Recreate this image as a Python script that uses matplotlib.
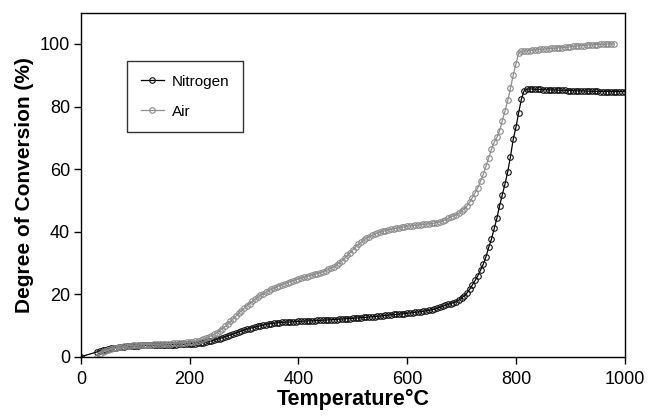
import matplotlib.pyplot as plt

plt.rcParams['font.family'] = ['Liberation Sans', 'DejaVu Sans']

# Sampling temperatures (deg C), 5 degree steps
temp_c = [
    30, 35, 40, 45, 50, 55, 60, 65, 70, 75,
    80, 85, 90, 95, 100, 105, 110, 115, 120, 125,
    130, 135, 140, 145, 150, 155, 160, 165, 170, 175,
    180, 185, 190, 195, 200, 205, 210, 215, 220, 225,
    230, 235, 240, 245, 250, 255, 260, 265, 270, 275,
    280, 285, 290, 295, 300, 305, 310, 315, 320, 325,
    330, 335, 340, 345, 350, 355, 360, 365, 370, 375,
    380, 385, 390, 395, 400, 405, 410, 415, 420, 425,
    430, 435, 440, 445, 450, 455, 460, 465, 470, 475,
    480, 485, 490, 495, 500, 505, 510, 515, 520, 525,
    530, 535, 540, 545, 550, 555, 560, 565, 570, 575,
    580, 585, 590, 595, 600, 605, 610, 615, 620, 625,
    630, 635, 640, 645, 650, 655, 660, 665, 670, 675,
    680, 685, 690, 695, 700, 705, 710, 715, 720, 725,
    730, 735, 740, 745, 750, 755, 760, 765, 770, 775,
    780, 785, 790, 795, 800, 805, 810, 815, 820, 825,
    830, 835, 840, 845, 850, 855, 860, 865, 870, 875,
    880, 885, 890, 895, 900, 905, 910, 915, 920, 925,
    930, 935, 940, 945, 950, 955, 960, 965, 970, 975,
    980, 985, 990, 995, 1000,
]

# Degree of conversion (%) under nitrogen, 30-1000 C
nitrogen = [
    1.6, 1.9, 2.1, 2.3, 2.5, 2.7, 2.8, 2.9, 3.0, 3.1,
    3.2, 3.3, 3.3, 3.4, 3.5, 3.5, 3.6, 3.6, 3.6, 3.7,
    3.7, 3.7, 3.8, 3.8, 3.8, 3.8, 3.9, 3.9, 3.9, 3.9,
    4.0, 4.0, 4.0, 4.1, 4.1, 4.2, 4.2, 4.3, 4.4, 4.5,
    4.7, 4.9, 5.1, 5.3, 5.6, 5.8, 6.1, 6.4, 6.7, 7.0,
    7.3, 7.6, 7.9, 8.2, 8.5, 8.8, 9.0, 9.3, 9.5, 9.7,
    9.9, 10.1, 10.3, 10.5, 10.6, 10.7, 10.8, 10.9, 11.0, 11.0,
    11.1, 11.1, 11.2, 11.2, 11.3, 11.3, 11.4, 11.4, 11.5, 11.5,
    11.5, 11.6, 11.6, 11.7, 11.7, 11.8, 11.8, 11.9, 11.9, 12.0,
    12.1, 12.1, 12.2, 12.2, 12.3, 12.4, 12.4, 12.5, 12.6, 12.6,
    12.7, 12.8, 12.8, 12.9, 13.0, 13.1, 13.2, 13.3, 13.4, 13.5,
    13.5, 13.6, 13.7, 13.8, 13.9, 14.0, 14.1, 14.2, 14.3, 14.4,
    14.5, 14.7, 14.8, 15.0, 15.2, 15.5, 15.8, 16.1, 16.4, 16.7,
    17.0, 17.3, 17.6, 18.1, 18.8, 19.5, 20.4, 21.6, 23.0, 24.4,
    25.9, 27.7, 29.6, 32.0, 35.0, 37.6, 41.0, 44.3, 48.3, 51.8,
    55.3, 59.2, 64.0, 69.5, 73.3, 78.0, 82.3, 85.0, 85.6, 85.6,
    85.6, 85.5, 85.5, 85.5, 85.4, 85.4, 85.4, 85.3, 85.3, 85.3,
    85.2, 85.2, 85.2, 85.1, 85.1, 85.1, 85.0, 85.0, 85.0, 85.0,
    84.9, 84.9, 84.9, 84.9, 84.9, 84.8, 84.8, 84.8, 84.8, 84.8,
    84.8, 84.8, 84.8, 84.8, 84.8,
]

# Degree of conversion (%) in air, 30-980 C
air = [
    0.0, 0.9, 1.5, 1.9, 2.2, 2.5, 2.7, 2.8, 3.0, 3.1,
    3.3, 3.4, 3.5, 3.6, 3.7, 3.7, 3.8, 3.8, 3.9, 3.9,
    3.9, 4.0, 4.0, 4.0, 4.1, 4.1, 4.2, 4.2, 4.3, 4.3,
    4.4, 4.5, 4.5, 4.6, 4.7, 4.8, 4.9, 5.1, 5.3, 5.6,
    5.9, 6.3, 6.7, 7.2, 7.7, 8.3, 9.0, 9.7, 10.5, 11.3,
    12.2, 13.0, 13.9, 14.7, 15.5, 16.3, 17.0, 17.7, 18.4, 19.0,
    19.6, 20.1, 20.6, 21.1, 21.5, 21.9, 22.3, 22.7, 23.0, 23.4,
    23.7, 24.0, 24.3, 24.6, 24.9, 25.1, 25.4, 25.6, 25.9, 26.1,
    26.4, 26.6, 26.9, 27.2, 27.5, 27.9, 28.3, 28.8, 29.3, 30.0,
    30.7, 31.5, 32.4, 33.3, 34.2, 35.1, 35.9, 36.6, 37.3, 37.9,
    38.4, 38.8, 39.2, 39.5, 39.8, 40.1, 40.3, 40.5, 40.7, 40.9,
    41.1, 41.2, 41.4, 41.5, 41.7, 41.8, 41.9, 42.0, 42.1, 42.2,
    42.3, 42.4, 42.5, 42.6, 42.7, 42.9, 43.2, 43.4, 43.7, 44.2,
    44.7, 45.0, 45.4, 45.9, 46.6, 47.3, 48.2, 49.4, 50.9, 52.4,
    54.1, 56.2, 58.3, 61.0, 63.6, 66.3, 68.5, 70.1, 72.3, 75.4,
    78.6, 82.0, 85.8, 90.0, 93.6, 97.1, 97.6, 97.7, 97.8, 97.9,
    98.0, 98.1, 98.2, 98.3, 98.3, 98.4, 98.5, 98.6, 98.6, 98.7,
    98.8, 98.8, 98.9, 99.0, 99.1, 99.2, 99.3, 99.4, 99.5, 99.5,
    99.6, 99.7, 99.7, 99.8, 99.8, 99.9, 99.9, 99.9, 100.0, 100.0,
    100.0,
]

x_ticks = [0, 200, 400, 600, 800, 1000]
y_ticks = [0, 20, 40, 60, 80, 100]

fig = plt.figure(figsize=(6.5, 4.16), dpi=100)
ax = fig.add_axes([0.1246, 0.1425, 0.8364, 0.827])

# nitrogen run is joined back to the origin
ax.plot([0] + temp_c, [0] + nitrogen, color='black', lw=0.9,
        marker='o', ms=4, mfc='none', mec='#111111', mew=0.8, label='Nitrogen')
ax.plot(temp_c[:len(air)], air, color='#8f8f8f', lw=0.9,
        marker='o', ms=4, mfc='none', mec='#8a8a8a', mew=0.8, label='Air')

ax.set_xlim(0, 1000)
ax.set_ylim(0, 110)
ax.set_xticks(x_ticks)
ax.set_yticks(y_ticks)
ax.tick_params(direction='out', length=5, width=1, labelsize=13)
ax.tick_params(axis='x', pad=5)
ax.tick_params(axis='y', pad=3)
for s in ax.spines.values():
    s.set_linewidth(1)
    s.set_color('black')

ax.set_xlabel('Temperature°C', fontsize=15.5, fontweight='bold', labelpad=1)
ax.set_ylabel('Degree of Conversion (%)', fontsize=15, fontweight='bold', labelpad=4)

leg = ax.legend(loc='upper left', bbox_to_anchor=(0.085, 0.86), fontsize=11,
                frameon=True, fancybox=False, edgecolor='black',
                handlelength=1.5, handletextpad=0.5, labelspacing=1.05,
                borderpad=0.9, borderaxespad=0)
leg.get_frame().set_linewidth(1)

fig.savefig('out.png', dpi=100)
